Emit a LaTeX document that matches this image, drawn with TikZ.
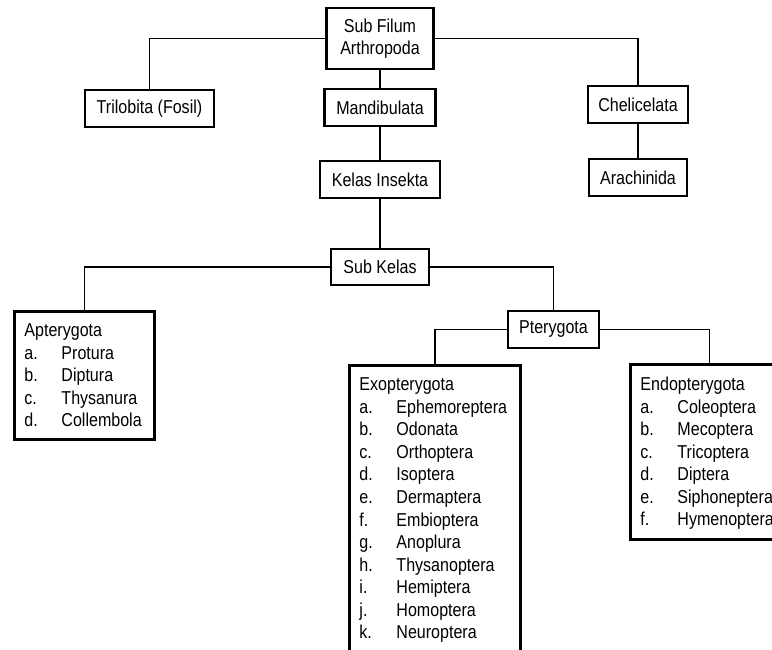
\documentclass[tikz,border=0pt]{standalone}
\usepackage{fontspec}
\setmainfont{Liberation Sans}[FakeStretch=0.86]
\usetikzlibrary{positioning}
\newdimen\px \px=0.75pt
\tikzset{
  taxon/.style={draw, line width=2.2pt, inner sep=0pt, align=center},
  group/.style={draw, line width=2.2pt, inner sep=0pt, anchor=north west},
  link/.style={line width=1pt}
}
\newcommand{\ordo}[2]{\makebox[37\px][l]{#1}#2\par}
\newcommand{\grouptext}[3]{\parbox[c][#1\px][t]{#2\px}{\vspace*{12.5\px}\leftskip=10\px #3}}

\begin{document}
\begin{tikzpicture}[x=0.75pt, y=-0.75pt, font=\fontsize{14}{16.9}\selectfont]
  \useasboundingbox (0,0) rectangle (772,650);
  \clip (0,0) rectangle (772,650);
  \node[taxon, minimum width=107\px, minimum height=61\px] (SF) at (380,38.5) {Sub Filum\\Arthropoda};
  \node[taxon, minimum width=129\px, minimum height=37\px] (TR) at (149.5,108.5) {Trilobita (Fosil)};
  \node[taxon, minimum width=111\px, minimum height=37\px] (MA) at (380,107.5) {Mandibulata};
  \node[taxon, minimum width=100\px, minimum height=37\px] (CH) at (638,104.5) {Chelicelata};
  \node[taxon, minimum width=120\px, minimum height=37\px] (KI) at (380,179.5) {Kelas Insekta};
  \node[taxon, minimum width=98\px, minimum height=37\px] (AR) at (638,177.5) {Arachinida};
  \node[taxon, minimum width=98\px, minimum height=36\px] (SK) at (380,267) {Sub Kelas};
  \node[taxon, minimum width=91\px, minimum height=37\px] (PT) at (553.5,329.5) {Pterygota};
  \node[group] (AP) at (13,310) {\grouptext{128}{140}{Apterygota\par
      \ordo{a.}{Protura}\ordo{b.}{Diptura}\ordo{c.}{Thysanura}\ordo{d.}{Collembola}}};
  \node[group] (EX) at (348,364) {\grouptext{320}{171}{Exopterygota\par
      \ordo{a.}{Ephemoreptera}\ordo{b.}{Odonata}\ordo{c.}{Orthoptera}\ordo{d.}{Isoptera}
      \ordo{e.}{Dermaptera}\ordo{f.}{Embioptera}\ordo{g.}{Anoplura}\ordo{h.}{Thysanoptera}
      \ordo{i.}{Hemiptera}\ordo{j.}{Homoptera}\ordo{k.}{Neuroptera}}};
  \node[group] (EN) at (629,363) {\grouptext{175}{158}{Endopterygota\par
      \ordo{a.}{Coleoptera}\ordo{b.}{Mecoptera}\ordo{c.}{Tricoptera}\ordo{d.}{Diptera}
      \ordo{e.}{Siphoneptera}\ordo{f.}{Hymenoptera}}};
  \draw[link] (SF.west) -| (TR.north);
  \draw[link] (SF.east) -| (CH.north);
  \draw[link] (SF) -- (MA);
  \draw[link] (MA) -- (KI);
  \draw[link] (CH) -- (AR);
  \draw[link] (KI) -- (SK);
  \draw[link] (SK.west) -| (AP.north);
  \draw[link] (SK.east) -| (PT.north);
  \draw[link] (PT.west) -| (EX.north);
  \draw[link] (PT.east) -| (EN.north);
\end{tikzpicture}
\end{document}
